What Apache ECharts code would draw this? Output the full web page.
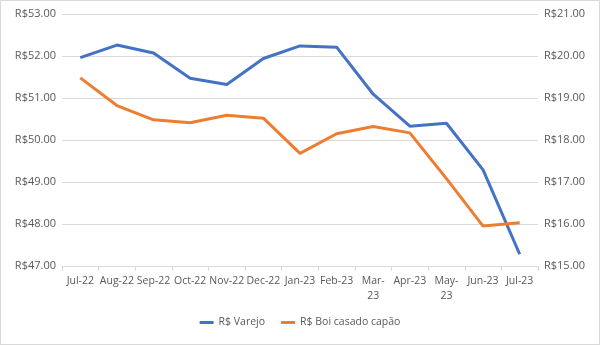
<!DOCTYPE html>
<html><head><meta charset="utf-8">
<script src="https://cdn.jsdelivr.net/npm/echarts@6/dist/echarts.min.js"></script>
<style>html,body{margin:0;padding:0;background:#fff}#c{width:598px;height:343px;border:1px solid #d9d9d9}</style>
</head><body><div id="c"></div>
<script>
const categories = ["Jul-22","Aug-22","Sep-22","Oct-22","Nov-22","Dec-22","Jan-23","Feb-23","Mar-23","Apr-23","May-23","Jun-23","Jul-23"];
const varejo = [51.96, 52.26, 52.07, 51.47, 51.32, 51.94, 52.24, 52.21, 51.09, 50.33, 50.40, 49.29, 47.28];
const boi = [19.48, 18.82, 18.48, 18.41, 18.59, 18.52, 17.68, 18.15, 18.32, 18.17, 17.08, 15.95, 16.03];
const leftTicks = {min: 47, max: 53, interval: 1};
const rightTicks = {min: 15, max: 21, interval: 1};
const wrapLabels = {"Mar-23": "Mar-\n23", "May-23": "May-\n23"};

const chart = echarts.init(document.getElementById('c'));
const fmt = v => 'R$' + v.toFixed(2);
chart.setOption({
  animation: false,
  textStyle: {fontFamily: 'Open Sans, Liberation Sans, sans-serif'},
  grid: {left: 61, right: 61, top: 13, bottom: 78},
  legend: {
    bottom: 11, left: 'center', itemGap: 16,
    icon: 'rect', itemWidth: 14, itemHeight: 3,
    textStyle: {color: '#595959', fontSize: 10.5},
    data: ['R$ Varejo', 'R$ Boi casado capão']
  },
  xAxis: {
    type: 'category', data: categories, boundaryGap: true,
    axisLine: {lineStyle: {color: '#d9d9d9'}},
    axisTick: {show: true, length: 5, lineStyle: {color: '#d9d9d9'}},
    axisLabel: {color: '#595959', fontSize: 10.5, interval: 0, margin: 8, lineHeight: 15,
      formatter: v => wrapLabels[v] || v}
  },
  yAxis: [
    {type: 'value', min: leftTicks.min, max: leftTicks.max, interval: leftTicks.interval,
     axisLine: {show: false}, axisTick: {show: false},
     splitLine: {lineStyle: {color: '#d9d9d9'}},
     axisLabel: {color: '#595959', fontSize: 11, margin: 6, formatter: fmt}},
    {type: 'value', min: rightTicks.min, max: rightTicks.max, interval: rightTicks.interval,
     axisLine: {show: false}, axisTick: {show: false},
     splitLine: {show: false},
     axisLabel: {color: '#595959', fontSize: 11, margin: 6, formatter: fmt}}
  ],
  series: [
    {name: 'R$ Varejo', type: 'line', yAxisIndex: 0, data: varejo, symbol: 'none',
     lineStyle: {width: 3, color: '#4472C4'}, itemStyle: {color: '#4472C4'}},
    {name: 'R$ Boi casado capão', type: 'line', yAxisIndex: 1, data: boi, symbol: 'none',
     lineStyle: {width: 3, color: '#ED7D31'}, itemStyle: {color: '#ED7D31'}}
  ]
});
</script></body></html>
